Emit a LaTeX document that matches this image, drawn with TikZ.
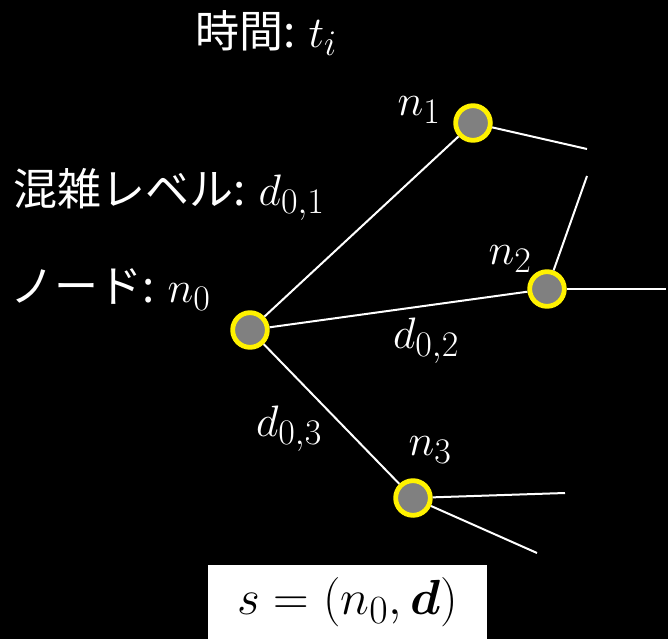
\RequirePackage{fix-cm}
\documentclass[tikz,border=0pt]{standalone}
\usepackage{amsmath}
\usepackage{fontspec}
\newfontfamily\jpfont{Noto Sans CJK JP}
\DeclareMathSizes{33}{33}{27}{22}
\DeclareMathSizes{37}{37}{30}{24}
\usetikzlibrary{positioning}

\tikzset{
  station/.style={circle,draw=yellow,line width=3.6pt,fill=gray,
    minimum size=26pt,inner sep=0pt},
  link/.style={white,line width=1.5pt},
  caption/.style={white,font=\fontsize{33}{38}\selectfont\jpfont,inner sep=0pt},
  tag/.style={white,font=\fontsize{33}{38}\selectfont,inner sep=0pt}
}

\begin{document}
\begin{tikzpicture}[x=0.75pt,y=-0.75pt]
  \fill[black] (0,0) rectangle (668,639);
  \useasboundingbox (0,0) rectangle (668,639);

  % stations
  \node[station] (n0) at (250,330) {};
  \node[station] (n1) at (473,123) {};
  \node[station] (n2) at (547,289) {};
  \node[station] (n3) at (413,498) {};

  % loose ends
  \coordinate (e1) at (587,149);
  \coordinate (e2) at (587,176);
  \coordinate (e3) at (666,289);
  \coordinate (e4) at (565,493);
  \coordinate (e5) at (537,553);

  \draw[link] (n0) -- (n1);
  \draw[link] (n0) -- (n2);
  \draw[link] (n0) -- (n3);
  \draw[link] (n1) -- (e1);
  \draw[link] (n2) -- (e2);
  \draw[link] (n2) -- (e3);
  \draw[link] (n3) -- (e4);
  \draw[link] (n3) -- (e5);

  % texts
  \node[caption] (time) at (266,33) {時間: $t_i$};
  \node[caption,anchor=base west] (level) at (13,205) {混雑レベル: $d_{0,1}$};
  \node[caption,anchor=base west] (node) at (10,302) {ノード: $n_0$};
  \node[tag] (l1) at (419,110) {$n_1$};
  \node[tag] (l2) at (510,259) {$n_2$};
  \node[tag] (l3) at (430,450) {$n_3$};
  \node[tag] (d2) at (426,341) {$d_{0,2}$};
  \node[tag] (d3) at (289,429) {$d_{0,3}$};

  \node[fill=white,minimum width=209pt,minimum height=56pt,inner sep=0pt,
    font=\fontsize{37}{42}\selectfont] (state) at (347.5,602)
    {$s=(n_0,\boldsymbol{d})$};
\end{tikzpicture}
\end{document}
